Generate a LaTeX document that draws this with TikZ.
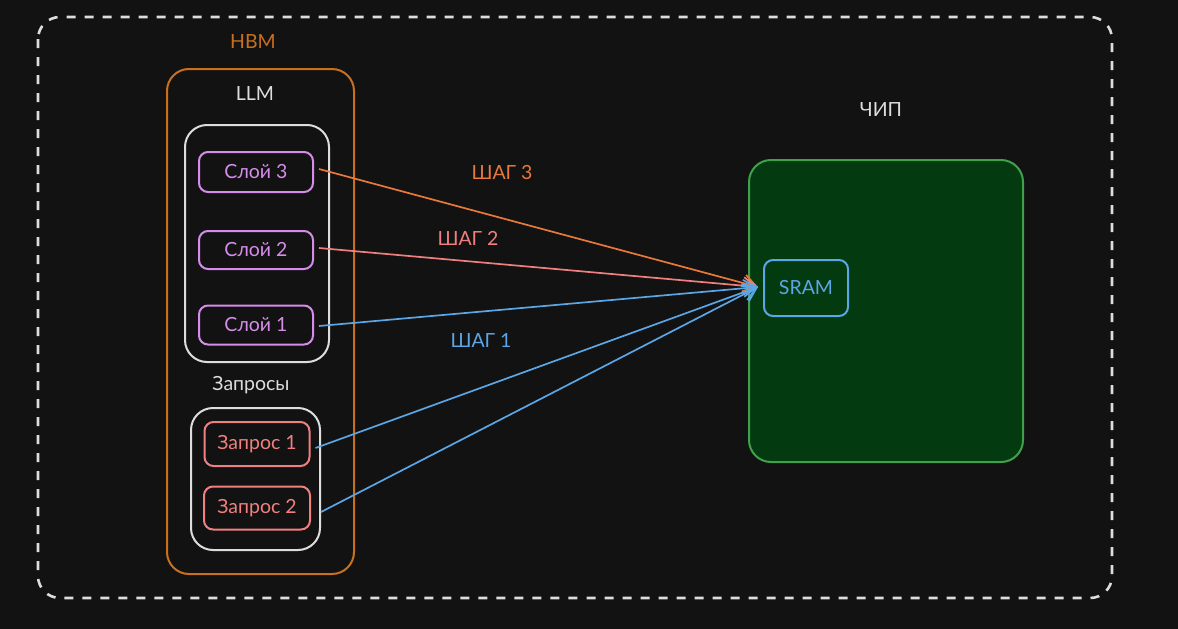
\documentclass[tikz,border=0pt]{standalone}
\usepackage{fontspec}
\setmainfont{Lato}
\usetikzlibrary{arrows.meta}
\definecolor{bg}{HTML}{121212}
\definecolor{lightg}{HTML}{DDDDDD}
\definecolor{hbmor}{HTML}{C8701E}
\definecolor{purp}{HTML}{D68CEB}
\definecolor{salm}{HTML}{F08080}
\definecolor{orng}{HTML}{E8793A}
\definecolor{blu}{HTML}{5AA6E6}
\definecolor{chipfill}{HTML}{033A10}
\definecolor{chipline}{HTML}{3FA14A}
\tikzset{
  lbl/.style={font=\fontsize{19.5}{22}\selectfont, inner sep=0pt},
  box/.style={draw, line width=2pt, rounded corners=9pt, inner sep=0pt},
  frame/.style={draw, line width=2pt, rounded corners=22pt, inner sep=0pt},
  conn/.style={line width=1.7pt, -{Straight Barb[length=13pt,width=17pt,line width=1.7pt]}},
}
\begin{document}
\begin{tikzpicture}[x=1pt,y=-1pt]
\fill[bg] (0,0) rectangle (1178,629);
\useasboundingbox (0,0) rectangle (1178,629);
% outer dashed frame
\draw[lightg, line width=2.6pt, dash pattern=on 9pt off 9pt, rounded corners=22pt] (38,17) rectangle (1112,598);
% HBM
\node[lbl, text=hbmor] (hbmlbl) at (253,42) {HBM};
\draw[hbmor, frame] (167,69) rectangle (354,574);
\node[lbl, text=lightg] (llmlbl) at (255,94) {LLM};
\draw[lightg, frame] (185,125) rectangle (329,362);
\node[box, purp, text=purp, minimum width=114pt, minimum height=40pt, lbl] (s3) at (256,172) {Слой 3};
\node[box, purp, text=purp, minimum width=114pt, minimum height=38pt, lbl] (s2) at (256,250) {Слой 2};
\node[box, purp, text=purp, minimum width=114pt, minimum height=39pt, lbl] (s1) at (256,325) {Слой 1};
\node[lbl, text=lightg] (reqlbl) at (251,385) {Запросы};
\draw[lightg, frame] (191,408) rectangle (320,550);
\node[box, salm, text=salm, minimum width=105pt, minimum height=44pt, lbl] (q1) at (257,444) {Запрос 1};
\node[box, salm, text=salm, minimum width=106pt, minimum height=43pt, lbl] (q2) at (257,508) {Запрос 2};
% chip
\node[lbl, text=lightg] (chiplbl) at (881,110) {ЧИП};
\draw[chipline, fill=chipfill, line width=2pt, rounded corners=22pt] (749,160) rectangle (1023,462);
\node[box, blu, text=blu, minimum width=84pt, minimum height=56pt, lbl] (sram) at (806,288) {SRAM};
\coordinate (tgt) at (758,287);
% arrows
\draw[conn, orng] ([xshift=5pt,yshift=3pt]s3.east) -- (tgt);
\draw[conn, salm] ([xshift=5pt,yshift=2pt]s2.east) -- (tgt);
\draw[conn, blu] ([xshift=5pt,yshift=-1pt]s1.east) -- (tgt);
\draw[conn, blu] ([xshift=5pt,yshift=-4pt]q1.east) -- (tgt);
\draw[conn, blu] ([xshift=10pt,yshift=-4pt]q2.east) -- (tgt);
% step labels
\node[lbl, text=orng] (st3) at (502,173) {ШАГ 3};
\node[lbl, text=salm] (st2) at (468,238) {ШАГ 2};
\node[lbl, text=blu] (st1) at (481,340) {ШАГ 1};
\end{tikzpicture}
\end{document}
